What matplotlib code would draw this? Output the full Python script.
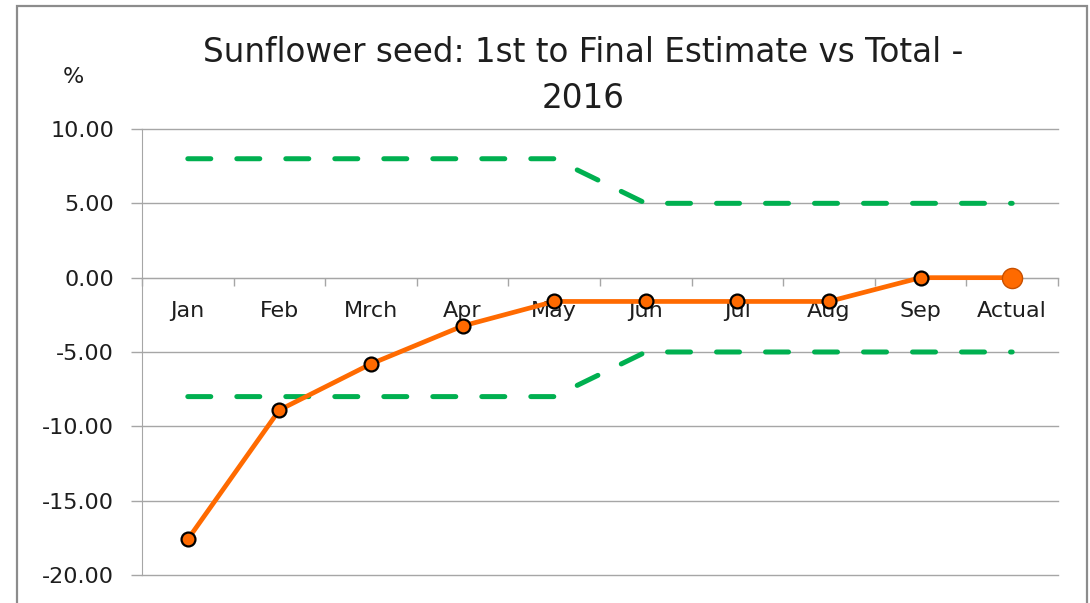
import matplotlib
matplotlib.use("Agg")
from matplotlib import pyplot as plt
from matplotlib.patches import Rectangle

months = ["Jan", "Feb", "Mrch", "Apr", "May", "Jun", "Jul", "Aug", "Sep", "Actual"]
estimate = [-17.6, -8.9, -5.8, -3.25, -1.6, -1.6, -1.6, -1.6, 0.0, 0.0]
upper_band = [8, 8, 8, 8, 8, 5, 5, 5, 5, 5]
lower_band = [-8, -8, -8, -8, -8, -5, -5, -5, -5, -5]
y_ticks = [-20, -15, -10, -5, 0, 5, 10]

plt.rcParams["font.family"] = ["DejaVu Sans"]
text_color = "#1e1e1e"
grid_color = "#a6a6a6"
green = "#00b050"
orange = "#ff6a00"

fig = plt.figure(figsize=(10.9, 6.03), dpi=100)
ax = fig.add_axes([142 / 1090, 1 - 575 / 603, (1058 - 142) / 1090, (575 - 129) / 603])

# chart border, cut off at the bottom
fig.patches.append(Rectangle((17 / 1090, -0.1), (1087 - 17) / 1090, 1.1 - 6 / 603,
                             transform=fig.transFigure, fill=False,
                             edgecolor="#8c8c8c", linewidth=1.6))

x = list(range(len(months)))

for band in (upper_band, lower_band):
    ax.plot(x, band, color=green, linewidth=3.6, linestyle=(0, (4.6, 5.2)),
            dash_capstyle="round", zorder=3, clip_on=False)

ax.plot(x, estimate, color=orange, linewidth=3.4, zorder=4, clip_on=False)
ax.plot(x[:-1], estimate[:-1], linestyle="none", marker="o", markersize=10,
        markerfacecolor=orange, markeredgecolor="black", markeredgewidth=1.6,
        zorder=5, clip_on=False)
ax.plot(x[-1:], estimate[-1:], linestyle="none", marker="o", markersize=14.5,
        markerfacecolor=orange, markeredgecolor="#c85000", markeredgewidth=1,
        zorder=5, clip_on=False)

ax.set_xlim(-0.5, len(months) - 0.5)
ax.set_ylim(-20, 10)
ax.set_yticks(y_ticks)
ax.set_yticklabels([f"{v:.2f}" for v in y_ticks])
ax.set_xticks(x)
ax.set_xticklabels(months)
ax.set_xticks([i - 0.5 for i in range(len(months) + 1)], minor=True)

ax.grid(axis="y", color=grid_color, linewidth=1)
ax.set_axisbelow(True)
for gl in ax.get_ygridlines():
    gl.set_clip_on(False)

for side in ("top", "right"):
    ax.spines[side].set_visible(False)
ax.spines["bottom"].set_position(("data", 0))
ax.spines["bottom"].set_color(grid_color)
ax.spines["left"].set_color(grid_color)

ax.tick_params(axis="x", which="major", length=0, pad=17, labelsize=16, labelcolor=text_color)
ax.tick_params(axis="x", which="minor", length=6, width=1, color=grid_color, direction="out")
ax.tick_params(axis="y", length=8, width=1, color=grid_color, pad=12,
               labelsize=16, labelcolor=text_color)

fig.text(583 / 1090, 1 - 52 / 603, "Sunflower seed: 1st to Final Estimate vs Total -",
         ha="center", va="center", fontsize=23.5, color=text_color)
fig.text(583 / 1090, 1 - 98 / 603, "2016",
         ha="center", va="center", fontsize=23.5, color=text_color)
fig.text(73 / 1090, 1 - 77 / 603, "%", ha="center", va="center",
         fontsize=16, color=text_color)

plt.savefig("out.png", dpi=100)
